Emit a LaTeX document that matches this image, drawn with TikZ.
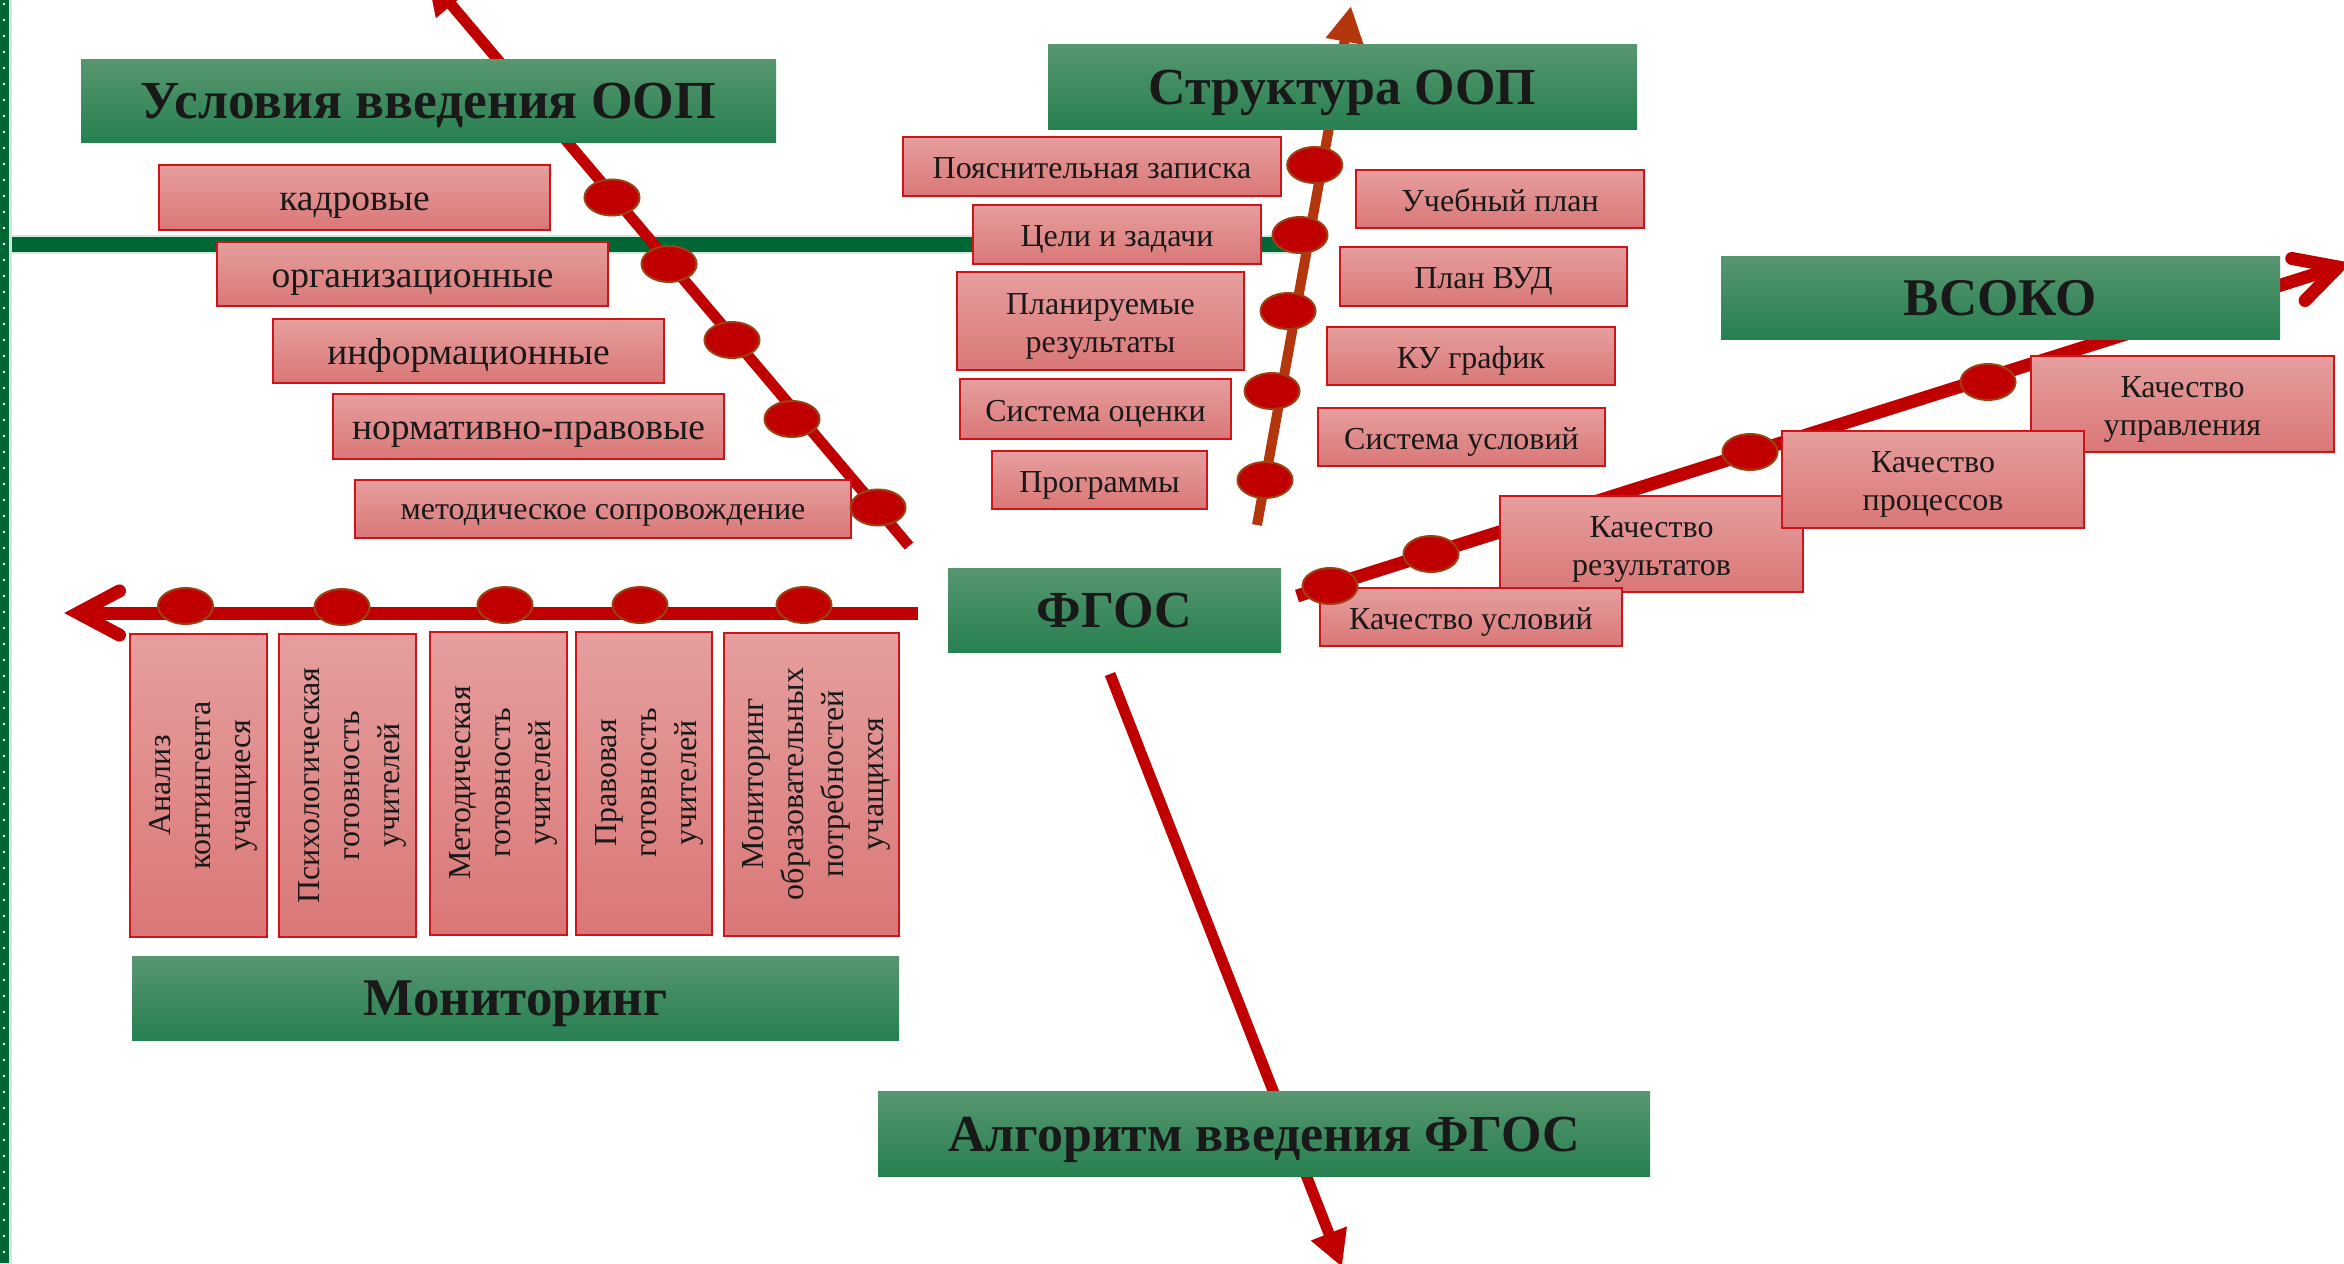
\documentclass[tikz,border=0pt]{standalone}
\usepackage{fontspec}
\setmainfont{Liberation Serif}
\usetikzlibrary{arrows.meta,calc,shapes.geometric}

\definecolor{cred}{RGB}{192,0,0}
\definecolor{crust}{RGB}{180,54,12}
\definecolor{cdotb}{RGB}{160,64,16}
\definecolor{cgreen}{RGB}{0,102,51}
\definecolor{cglow}{RGB}{205,235,218}
\definecolor{gtop}{RGB}{88,150,112}
\definecolor{gbot}{RGB}{38,128,80}
\definecolor{ptop}{RGB}{230,158,158}
\definecolor{pbot}{RGB}{218,119,119}
\definecolor{pborder}{RGB}{205,20,25}
\definecolor{ctext}{RGB}{25,25,25}

\newcommand\mlines[1]{\begin{tabular}[t]{@{}c@{}}#1\end{tabular}}

\tikzset{
  titlebox/.style={inner sep=0pt, top color=gtop, bottom color=gbot, draw=none, text=ctext,
    font=\fontsize{52}{60}\selectfont\bfseries, text height=43pt, text depth=8pt},
  pbox/.style={inner sep=0pt, top color=ptop, bottom color=pbot, draw=pborder, line width=2pt,
    text=ctext, font=\fontsize{32}{38}\selectfont, text height=29pt, text depth=5pt},
  twol/.style={text depth=43pt},
  bigtxt/.style={font=\fontsize{37.5}{44}\selectfont, text height=32pt, text depth=6pt},
  smalltxt/.style={font=\fontsize{32}{38}\selectfont, text height=26pt, text depth=5pt},
  vbox/.style={pbox, rotate=90, minimum width=303pt, font=\fontsize{32}{40}\selectfont,
    text depth=85pt},
  vfour/.style={text depth=125pt},
  dotn/.style={ellipse, fill=cred, draw=cdotb, line width=2pt, minimum width=55pt,
    minimum height=36pt, inner sep=0pt},
  redline/.style={draw=cred, line width=12pt},
  chev/.style={draw=cred, line width=13pt, line cap=round, line join=miter},
}

\begin{document}
\begin{tikzpicture}[x=1pt,y=-1pt]
\useasboundingbox (0,0) rectangle (2344,1263);
\clip (0,0) rectangle (2344,1263);
\fill[white] (0,0) rectangle (2344,1263);

% horizontal green line
\coordinate (gA) at (0,244);
\coordinate (gB) at (1295,244);
\draw[cglow, line width=19pt] (gA) -- (gB);
\draw[cgreen, line width=15pt] (gA) -- (gB);

% left green border with dots
\fill[cglow] (0,0) rectangle (12,1263);
\fill[cgreen] (0,0) rectangle (9,1263);
\foreach \k in {0,...,79} {\fill[white] (4,4+16*\k) circle (1.3);}

% conditions axis
\coordinate (cS) at (909,546);
\coordinate (cE) at (427,-24);
\draw[redline, line width=11pt, -{Triangle[length=38pt,width=38pt]}] (cS) -- (cE);

% structure axis
\coordinate (sS) at (1257,525);
\coordinate (sE) at (1351,6);
\draw[draw=crust, line width=10pt, -{Triangle[length=36pt,width=36pt]}] (sS) -- (sE);

% VSOKO axis
\coordinate (vS) at (1297,596);
\coordinate (vE) at (2338,267);
\draw[redline, line width=13pt] (vS) -- (vE);
\draw[chev] ($(vE)!47pt!28:(vS)$) -- (vE) -- ($(vE)!47pt!-28:(vS)$);

% monitoring axis
\coordinate (mS) at (918,613);
\coordinate (mE) at (78,613);
\draw[redline, line width=13pt] (mS) -- (mE);
\draw[chev] ($(mE)!47pt!28:(mS)$) -- (mE) -- ($(mE)!47pt!-28:(mS)$);

% algorithm axis
\coordinate (aS) at (1110,674);
\coordinate (aE) at (1342,1267);
\draw[redline, line width=11pt, -{Triangle[length=36pt,width=36pt]}] (aS) -- (aE);

% conditions boxes
\node[pbox, bigtxt, minimum width=391pt, minimum height=65pt] (c1) at (354.5,197.5) {кадровые};
\node[pbox, bigtxt, minimum width=391pt, minimum height=64pt] (c2) at (412.5,274) {организационные};
\node[pbox, bigtxt, minimum width=391pt, minimum height=64pt] (c3) at (468.5,351) {информационные};
\node[pbox, bigtxt, minimum width=391pt, minimum height=65pt] (c4) at (528.5,426.5) {нормативно-правовые};
\node[pbox, smalltxt, minimum width=496pt, minimum height=58pt] (c5) at (603,509) {методическое сопровождение};

% structure boxes
\node[pbox, minimum width=378pt, minimum height=59pt] (s1) at (1092,166.5) {Пояснительная записка};
\node[pbox, minimum width=288pt, minimum height=59pt] (s2) at (1117,234.5) {Цели и задачи};
\node[pbox, twol, minimum width=287pt, minimum height=98pt] (s3) at (1100.5,321) {\mlines{Планируемые\\результаты}};
\node[pbox, minimum width=271pt, minimum height=60pt] (s4) at (1095.5,409) {Система оценки};
\node[pbox, minimum width=215pt, minimum height=58pt] (s5) at (1099.5,480) {Программы};
\node[pbox, minimum width=288pt, minimum height=58pt] (s6) at (1500,199) {Учебный план};
\node[pbox, minimum width=287pt, minimum height=59pt] (s7) at (1483.5,276.5) {План ВУД};
\node[pbox, minimum width=288pt, minimum height=58pt] (s8) at (1471,356) {КУ график};
\node[pbox, minimum width=287pt, minimum height=58pt] (s9) at (1461.5,437) {Система условий};

% quality boxes
\node[pbox, twol, minimum width=303pt, minimum height=96pt] (q4) at (2182.5,404) {\mlines{Качество\\управления}};
\node[pbox, twol, minimum width=303pt, minimum height=96pt] (q2) at (1651.5,544) {\mlines{Качество\\результатов}};
\node[pbox, minimum width=302pt, minimum height=58pt] (q1) at (1471,617) {Качество условий};
\node[pbox, twol, minimum width=302pt, minimum height=97pt] (q3) at (1933,479.5) {\mlines{Качество\\процессов}};

% monitoring boxes (vertical)
\node[vbox, minimum height=137pt] (m1) at (198.5,785.5) {\mlines{Анализ\\контингента\\учащиеся}};
\node[vbox, minimum height=137pt] (m2) at (347.5,785.5) {\mlines{Психологическая\\готовность\\учителей}};
\node[vbox, minimum height=137pt] (m3) at (498.5,783) {\mlines{Методическая\\готовность\\учителей}};
\node[vbox, minimum height=136pt] (m4) at (644,783) {\mlines{Правовая\\готовность\\учителей}};
\node[vbox, vfour, minimum height=175pt] (m5) at (811.5,784) {\mlines{Мониторинг\\образовательных\\потребностей\\учащихся}};

% title boxes
\node[titlebox, font=\fontsize{53.5}{60}\selectfont\bfseries, minimum width=695pt, minimum height=82pt] (tU) at (428.5,101) {Условия введения ООП};
\node[titlebox, minimum width=589pt, minimum height=84pt] (tS) at (1342.5,87) {Структура ООП};
\node[titlebox, font=\fontsize{53}{60}\selectfont\bfseries, minimum width=559pt, minimum height=83pt] (tV) at (2000.5,297.5) {ВСОКО};
\node[titlebox, minimum width=333pt, minimum height=84pt] (tF) at (1114.5,610) {ФГОС};
\node[titlebox, font=\fontsize{53}{60}\selectfont\bfseries, minimum width=767pt, minimum height=84pt] (tM) at (515.5,998) {Мониторинг};
\node[titlebox, minimum width=772pt, minimum height=85pt] (tA) at (1264,1133.5) {Алгоритм введения ФГОС};

% dots
\foreach \p [count=\i] in {(612,197.5),(669,264),(732,340),(792,419),(878,507.5)}
  {\node[dotn] (dc\i) at \p {};}
\foreach \p [count=\i] in {(1314.7,165),(1300,235),(1288,311),(1272,391),(1265,480)}
  {\node[dotn] (ds\i) at \p {};}
\foreach \p [count=\i] in {(1330,586),(1431,554),(1750,452),(1988,382)}
  {\node[dotn] (dv\i) at \p {};}
\foreach \p [count=\i] in {(185.5,606),(342,607),(505,605),(640,605),(804,605)}
  {\node[dotn] (dm\i) at \p {};}
\end{tikzpicture}
\end{document}
